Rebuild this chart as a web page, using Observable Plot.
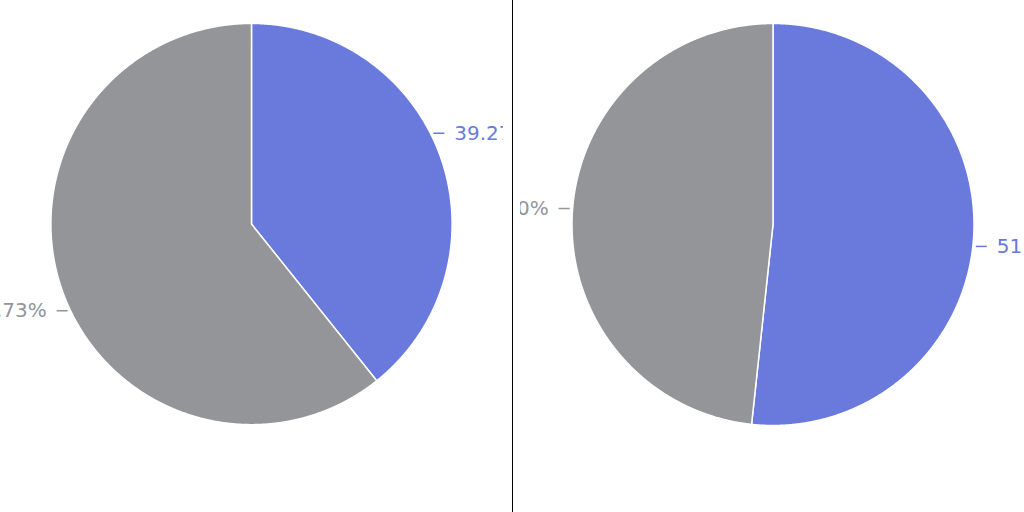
<!DOCTYPE html>
<html>
<head>
<meta charset="utf-8">
<script src="https://cdn.jsdelivr.net/npm/d3@7"></script>
<script src="https://cdn.jsdelivr.net/npm/@observablehq/plot@0.6"></script>
<style>
  html, body { margin: 0; padding: 0; background: #fff; }
  #wrap { position: relative; width: 1024px; height: 512px; overflow: hidden; }
  .panel { position: absolute; top: 0; height: 512px; overflow: hidden; }
  #left { left: 0; width: 503px; }
  #right { left: 520px; width: 504px; }
  #divider { position: absolute; left: 511.5px; top: 0; width: 1.5px; height: 512px; background: #000; }
</style>
</head>
<body>
<div id="wrap">
  <div class="panel" id="left"></div>
  <div id="divider"></div>
  <div class="panel" id="right"></div>
</div>
<script>
// ---- data ----
const categories = ["Share A", "Share B"];
const colors = ["#6979dc", "#939598"];
const leftValues = [39.27, 60.73];
const rightValues = [51.70, 48.30];
const leftLabels = ["39.27%", "60.73%"];
const rightLabels = ["51.70%", "48.30%"];

// ---- layout (styling) ----
const R = 201;            // pie radius in px
const CY = 224;           // pie centre y in px
// small label angle nudges (degrees) per slice, as in the reference layout
const leftNudge = [-7.6, -6.3];
const rightNudge = [3.2, 1.5];
const FONT = "'DejaVu Sans', sans-serif";

function build(values, labels, nudges, cx) {
  const arcs = d3.pie().sort(null).value(d => d)(values);
  const poly = [];
  const labs = [];
  arcs.forEach((a, i) => {
    const cat = categories[i];
    poly.push({cat, x: 0, y: 0});
    const step = Math.PI / 720;
    for (let t = a.startAngle; t < a.endAngle; t += step) {
      poly.push({cat, x: Math.sin(t), y: Math.cos(t)});
    }
    poly.push({cat, x: Math.sin(a.endAngle), y: Math.cos(a.endAngle)});
    poly.push({cat, x: 0, y: 0});
    const mid = (a.startAngle + a.endAngle) / 2 + nudges[i] * Math.PI / 180;
    const ex = Math.sin(mid), ey = Math.cos(mid);
    const side = ex >= 0 ? 1 : -1;
    const gap = side > 0 ? 0 : 0;
    labs.push({cat, label: labels[i], ex, ey, side,
      x1: ex + side * 3 / R, x2: ex + side * 14 / R, tx: ex + side * 24 / R});
  });

  return Plot.plot({
    width: 504,
    height: 512,
    style: {background: "#fff", overflow: "hidden"},
    x: {domain: [-1, 1], range: [cx - R, cx + R], axis: null},
    y: {domain: [-1, 1], range: [CY + R, CY - R], axis: null},
    color: {type: "ordinal", domain: categories, range: colors},
    marks: [
      Plot.line(poly, {x: "x", y: "y", z: "cat", fill: "cat", stroke: "white", strokeWidth: 1.5, curve: "linear-closed"}),
      Plot.link(labs, {x1: "x1", x2: "x2", y1: "ey", y2: "ey", stroke: "cat", strokeWidth: 1.5}),
      Plot.text(labs.filter(d => d.side > 0), {x: "tx", y: "ey", text: "label", fill: "cat", textAnchor: "start", fontSize: 20, fontFamily: FONT}),
      Plot.text(labs.filter(d => d.side < 0), {x: "tx", y: "ey", text: "label", fill: "cat", textAnchor: "end", fontSize: 20, fontFamily: FONT})
    ]
  });
}

document.getElementById("left").appendChild(build(leftValues, leftLabels, leftNudge, 251.5));
document.getElementById("right").appendChild(build(rightValues, rightLabels, rightNudge, 252.5));
</script>
</body>
</html>
